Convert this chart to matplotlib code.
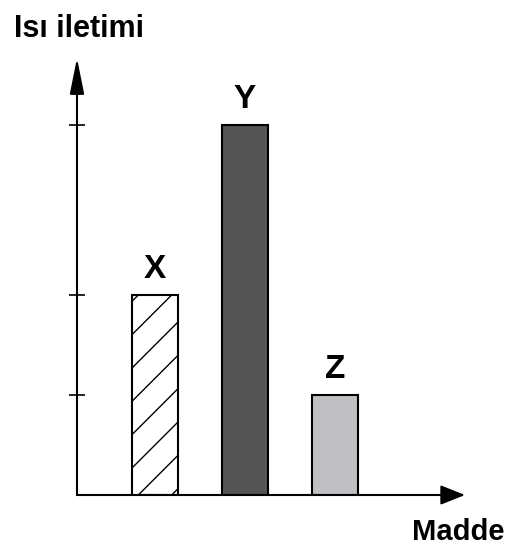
import matplotlib
matplotlib.use("Agg")
import matplotlib.pyplot as plt

# veriler
maddeler = ["X", "Y", "Z"]
isi_iletimi = [2.0, 3.7, 1.0]
renkler = ["white", "#555558", "#c0c0c4"]
taramalar = ["/", None, None]

FONT = ["Liberation Sans", "DejaVu Sans"]

plt.rcParams["hatch.linewidth"] = 1.0
plt.rcParams["hatch.color"] = "#444444"

fig = plt.figure(figsize=(5.2, 5.48), dpi=100)
ax = fig.add_axes([77 / 520, 53 / 548, (465 - 77) / 520, (495 - 58) / 548])

konum = [1, 2, 3]
for x, h, r, t, ad in zip(konum, isi_iletimi, renkler, taramalar, maddeler):
    ax.bar(x, h, width=0.52, color=r, edgecolor="black", linewidth=1.5, hatch=t)
    ax.annotate(ad, (x, h), xytext=(0, 7), textcoords="offset points",
                ha="center", va="bottom", fontsize=24, fontweight="bold",
                family=FONT)

ax.set_xlim(1 - 78 / 90, 1 + 310 / 90)
ax.set_ylim(0, 4.37)

for s in ax.spines.values():
    s.set_visible(False)
ax.set_xticks([])
ax.set_yticks(isi_iletimi)
ax.set_yticklabels([])
ax.tick_params(axis="y", direction="inout", length=12, width=1.2)

# eksen oklari
ax.annotate("", xy=(0, 1), xytext=(0, 0), xycoords="axes fraction",
            arrowprops=dict(arrowstyle="-|>,head_length=1.1,head_width=0.22",
                            mutation_scale=20, color="black", lw=1.5,
                            shrinkA=0, shrinkB=0))
ax.annotate("", xy=(1, 0), xytext=(0, 0), xycoords="axes fraction",
            arrowprops=dict(arrowstyle="-|>,head_length=0.75,head_width=0.3",
                            mutation_scale=20, color="black", lw=1.5,
                            shrinkA=0, shrinkB=0))

fig.text(14 / 520, 1 - 37 / 548, "Isı iletimi", ha="left", va="baseline",
         fontsize=22, fontweight="bold", family=FONT)
fig.text(504 / 520, 1 - 540 / 548, "Madde", ha="right", va="baseline",
         fontsize=21, fontweight="bold", family=FONT)

fig.savefig("out.png", dpi=100)
